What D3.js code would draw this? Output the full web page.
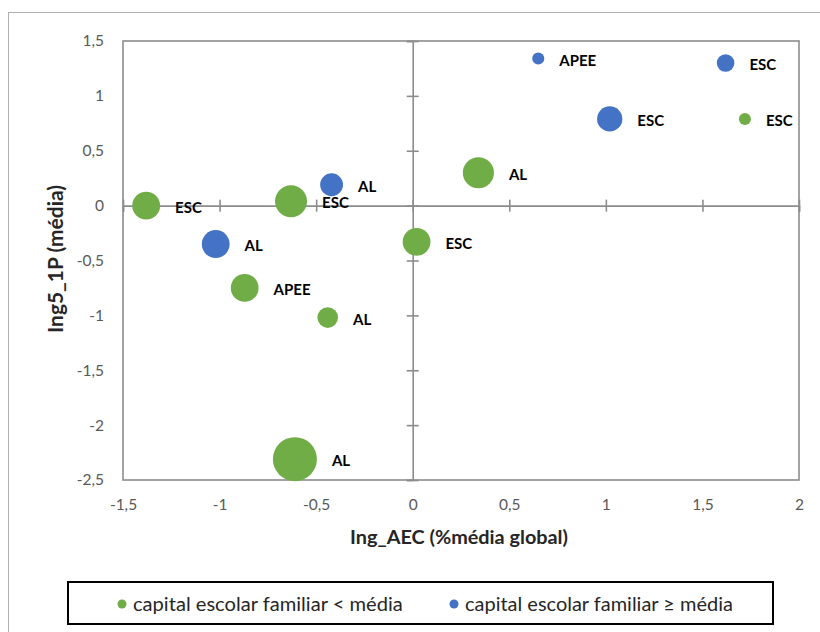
<!DOCTYPE html>
<html><head><meta charset="utf-8">
<script src="https://cdn.jsdelivr.net/npm/d3@7"></script>
<style>body{margin:0;background:#fff} svg{display:block}</style>
</head><body>
<svg id="chart" width="820" height="632"></svg>
<script>
// ---- data ----
const lowNames = ["ESC", "ESC", "ESC", "AL", "ESC", "APEE", "AL", "AL"];
const lowX     = [-1.38, -0.63, 0.02, 0.34, 1.72, -0.87, -0.44, -0.61];
const lowY     = [0.00, 0.04, -0.33, 0.30, 0.79, -0.75, -1.02, -2.31];
const lowSize  = [40, 53, 40, 50, 7.5, 40, 22, 100];

const highNames = ["APEE", "ESC", "ESC", "AL", "AL"];
const highX     = [0.65, 1.62, 1.02, -0.42, -1.02];
const highY     = [1.34, 1.30, 0.79, 0.19, -0.35];
const highSize  = [7.5, 16, 33, 27, 40];

const xTicks = [-1.5, -1, -0.5, 0, 0.5, 1, 1.5, 2];
const yTicks = [-2.5, -2, -1.5, -1, -0.5, 0, 0.5, 1, 1.5];
const seriesLabels = ["capital escolar familiar < média", "capital escolar familiar \u2265 média"];
const xTitle = "Ing_AEC (%média global)";
const yTitle = "Ing5_1P (média)";

// ---- build ----
const series = [
  {label: seriesLabels[0], color: "#70AD47", pts: lowNames.map((n, i) => ({n, x: lowX[i], y: lowY[i], s: lowSize[i]}))},
  {label: seriesLabels[1], color: "#4472C4", pts: highNames.map((n, i) => ({n, x: highX[i], y: highY[i], s: highSize[i]}))}
];

const svg = d3.select("#chart");
const L = 123, R = 799, T = 41, B = 480;
const x = d3.scaleLinear().domain([-1.5, 2]).range([L, R]);
const y = d3.scaleLinear().domain([-2.5, 1.5]).range([B, T]);
const r = d3.scaleSqrt().domain([0, 100]).range([0, 22]);
const fmt = d => String(d).replace(".", ",");
const axisColor = "#8c8c8c";
const font = "Lato, 'Open Sans', sans-serif";

function fit(sel, target) {
  const w = sel.node().getComputedTextLength();
  const fs = parseFloat(sel.style("font-size"));
  sel.style("font-size", (fs * target / w) + "px");
}

// outer chart border
svg.append("rect").attr("x", 8.5).attr("y", 12.5).attr("width", 830).attr("height", 640)
  .attr("fill", "none").attr("stroke", "#b0b0b0").attr("stroke-width", 1);

// plot area border
svg.append("rect").attr("x", L).attr("y", T).attr("width", R - L).attr("height", B - T)
  .attr("fill", "none").attr("stroke", axisColor).attr("stroke-width", 1.6);

// tick labels (low position)
const gxl = svg.append("g").attr("transform", `translate(0,${B})`)
  .call(d3.axisBottom(x).tickValues(xTicks).tickFormat(fmt).tickSize(0).tickPadding(19));
gxl.select(".domain").remove();
gxl.selectAll("text").style("font-family", font).style("font-size", "15.5px").attr("fill", "#595959");

const gyl = svg.append("g").attr("transform", `translate(${L},0)`)
  .call(d3.axisLeft(y).tickValues(yTicks).tickFormat(fmt).tickSize(0).tickPadding(19));
gyl.select(".domain").remove();
gyl.selectAll("text").style("font-family", font).style("font-size", "15.5px").attr("fill", "#595959");

// axes crossing at zero with cross tick marks
const gx = svg.append("g").attr("transform", `translate(0,${y(0)})`)
  .call(d3.axisBottom(x).tickValues(xTicks).tickFormat("").tickSizeOuter(0).tickSize(6));
gx.select(".domain").attr("stroke", axisColor).attr("stroke-width", 1.6);
gx.selectAll(".tick line").attr("y1", -6).attr("y2", 6).attr("stroke", axisColor).attr("stroke-width", 1.6);

const gy = svg.append("g").attr("transform", `translate(${x(0)},0)`)
  .call(d3.axisLeft(y).tickValues(yTicks).tickFormat("").tickSizeOuter(0).tickSize(6));
gy.select(".domain").attr("stroke", axisColor).attr("stroke-width", 1.6);
gy.selectAll(".tick line").attr("x1", -6).attr("x2", 6).attr("stroke", axisColor).attr("stroke-width", 1.6);

// bubbles
series.forEach(s => {
  svg.append("g").selectAll("circle").data(s.pts).join("circle")
    .attr("cx", d => x(d.x)).attr("cy", d => y(d.y)).attr("r", d => r(d.s))
    .attr("fill", s.color);
});

// data labels
series.forEach(s => {
  svg.append("g").selectAll("text").data(s.pts).join("text")
    .attr("x", d => x(d.x) + r(d.s) + 15).attr("y", d => y(d.y) + 7)
    .style("font-family", font).style("font-size", "15px").style("font-weight", "bold")
    .attr("fill", "#000").text(d => d.n);
});

// axis titles
const xt = svg.append("text").attr("x", 459).attr("y", 544).attr("text-anchor", "middle")
  .style("font-family", font).style("font-size", "19px").style("font-weight", "bold")
  .attr("fill", "#262626").text(xTitle);
fit(xt, 218);

const yt = svg.append("text").attr("transform", "translate(63,259) rotate(-90)").attr("text-anchor", "middle")
  .style("font-family", font).style("font-size", "19px").style("font-weight", "bold")
  .attr("fill", "#262626").text(yTitle);
fit(yt, 148);

// legend
svg.append("rect").attr("x", 68).attr("y", 582).attr("width", 705).attr("height", 42)
  .attr("fill", "none").attr("stroke", "#000").attr("stroke-width", 2);
const legX = [122, 454];
series.forEach((s, i) => {
  svg.append("circle").attr("cx", legX[i]).attr("cy", 604).attr("r", 4.5).attr("fill", s.color);
  const t = svg.append("text").attr("x", legX[i] + 11).attr("y", 611)
    .style("font-family", font).style("font-size", "20px").attr("fill", "#262626").text(s.label);
  fit(t, i === 0 ? 270 : 268);
});
</script>
</body></html>
